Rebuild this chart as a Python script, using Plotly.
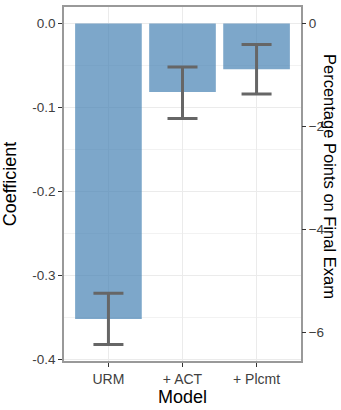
import plotly.graph_objects as go

models = ["URM", "+ ACT", "+ Plcmt"]
coef = [-0.3515, -0.0815, -0.0545]
err_low = [-0.382, -0.113, -0.084]
err_high = [-0.321, -0.052, -0.025]
right_ticks = [0, -2, -4, -6]

COEF_PER_POINT = 0.0613
y_range = [-0.4015, 0.0195]

err_plus = [h - c for h, c in zip(err_high, coef)]
err_minus = [c - l for l, c in zip(err_low, coef)]

fig = go.Figure()
fig.add_trace(go.Bar(
    x=models, y=coef, width=0.9,
    marker=dict(color="rgba(70,130,180,0.7)", line=dict(width=0)),
    error_y=dict(type="data", symmetric=False, array=err_plus, arrayminus=err_minus,
                 color="#666666", thickness=3, width=15),
    showlegend=False, hoverinfo="skip",
))
fig.add_trace(go.Scatter(
    x=models, y=[c / COEF_PER_POINT for c in coef], yaxis="y2",
    mode="markers", marker=dict(opacity=0), showlegend=False, hoverinfo="skip",
))

font = "Liberation Sans, Arial, sans-serif"
fig.update_layout(
    width=341, height=410,
    margin=dict(l=64, r=40, t=5, b=49),
    paper_bgcolor="white", plot_bgcolor="white",
    font=dict(family=font, color="black"),
    bargap=0.1,
    xaxis=dict(
        range=[-0.6, 2.6], showgrid=True, gridcolor="#ebebeb", gridwidth=1,
        ticks="outside", ticklen=4, tickcolor="#333333",
        tickfont=dict(size=14, color="#404040"),
        showline=True, linecolor="#999999", linewidth=1.5, mirror=True,
        title=dict(text="Model", font=dict(size=18, color="black"), standoff=3),
        zeroline=False,
    ),
    yaxis=dict(
        range=y_range, tickvals=[0, -0.1, -0.2, -0.3, -0.4],
        ticktext=["0.0", "-0.1", "-0.2", "-0.3", "-0.4"],
        showgrid=True, gridcolor="#ebebeb", gridwidth=1,
        minor=dict(tickvals=[-0.05, -0.15, -0.25, -0.35], showgrid=True,
                   gridcolor="#f2f2f2", gridwidth=1, ticks=""),
        ticks="outside", ticklen=4, tickcolor="#333333",
        tickfont=dict(size=13.5, color="#404040"),
        showline=True, linecolor="#999999", linewidth=1.5, mirror=True,
        title=dict(text="Coefficient", font=dict(size=18, color="black"), standoff=11),
        zeroline=False,
    ),
    yaxis2=dict(
        overlaying="y", side="right",
        range=[y_range[0] / COEF_PER_POINT, y_range[1] / COEF_PER_POINT],
        tickvals=right_ticks, showgrid=False, zeroline=False,
        ticks="outside", ticklen=4, tickcolor="#333333",
        tickfont=dict(size=13.5, color="#404040"),
        showline=False,
    ),
    annotations=[dict(
        text="Percentage Points on Final Exam", textangle=90,
        xref="paper", yref="paper", x=1.0, y=0.5, xshift=29, yshift=8,
        xanchor="center", yanchor="middle", showarrow=False,
        font=dict(size=16.5, color="black", family=font),
    )],
)

fig.write_html("out.html")
